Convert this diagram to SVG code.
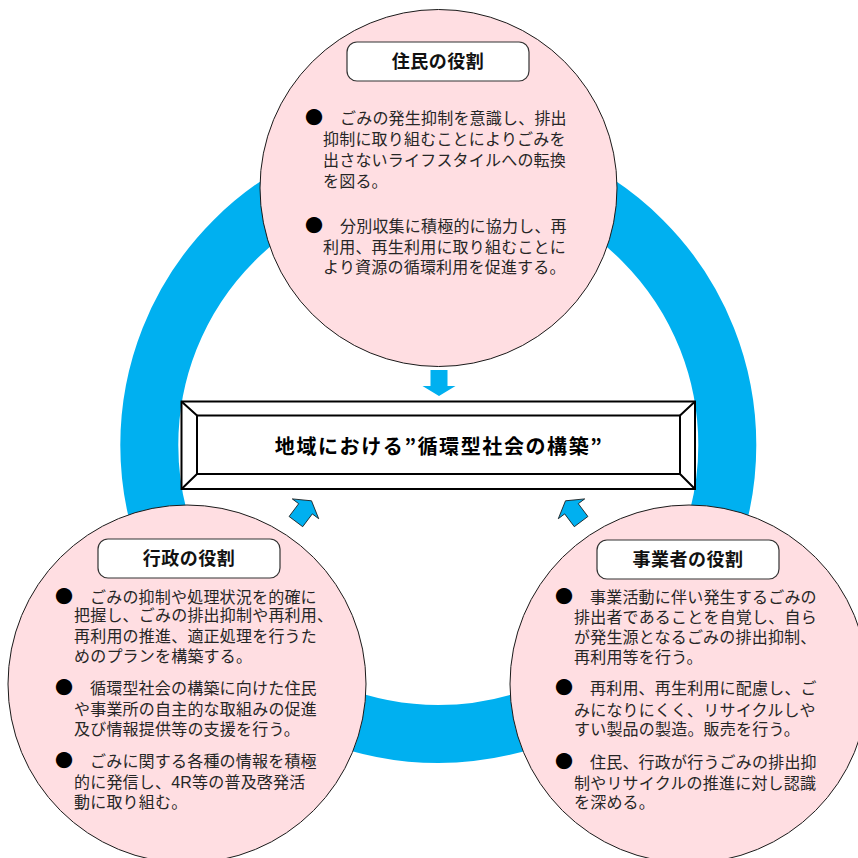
<svg xmlns="http://www.w3.org/2000/svg" width="858" height="858" viewBox="0 0 858 858">
<style>
.ring{fill:none;stroke:#00B0F0;stroke-width:58}
.role{fill:#FFDEE2;stroke:#1a1a1a;stroke-width:1}
.lbl{fill:#fff;stroke:#333;stroke-width:1.2}
.lt{font-family:"Noto Sans CJK JP","Noto Sans CJK SC",sans-serif;font-weight:700;font-size:18px;letter-spacing:0.5px;text-anchor:middle;fill:#111}
.bt{font-family:"Liberation Sans","Noto Sans CJK JP","Noto Sans CJK SC",sans-serif;font-size:16px;letter-spacing:0.2px;fill:#262626}
.bu{font-family:"Noto Sans CJK JP","Noto Sans CJK SC",sans-serif;font-size:18px;fill:#000}
.bx{fill:#fff;stroke:#000;stroke-width:2}
.ct{font-family:"Noto Sans CJK JP","Noto Sans CJK SC",sans-serif;font-weight:700;font-size:20px;text-anchor:middle;fill:#000}
.arr{fill:#00B0F0;stroke:#1a1a1a;stroke-width:0.8;stroke-linejoin:miter}
.arrd{fill:#00B0F0}
</style>
<defs>
<path id="ah" d="M-8.5,-16 L8.5,-16 L8.5,0 L16.5,0 L0,10 L-16.5,0 L-8.5,0 Z"/>
</defs>
<rect width="858" height="858" fill="#fff"/>
<g id="ring">
<circle class="ring" cx="438.3" cy="445" r="289"/>
</g>
<g id="node-residents">
<circle class="role" cx="438.5" cy="188" r="178.5"/>
<rect class="lbl" x="347" y="42" width="182" height="39" rx="10"/>
<text class="lt" x="438" y="68">住民の役割</text>
<text class="bt"><tspan class="bu" x="305" y="124">●</tspan><tspan x="340" y="124">ごみの発生抑制を意識し、排出</tspan><tspan x="323" y="145">抑制に取り組むことによりごみを</tspan><tspan x="323" y="166">出さないライフスタイルへの転換</tspan><tspan x="323" y="187">を図る。</tspan></text>
<text class="bt"><tspan class="bu" x="305" y="232">●</tspan><tspan x="340" y="232">分別収集に積極的に協力し、再</tspan><tspan x="323" y="253">利用、再生利用に取り組むことに</tspan><tspan x="323" y="273">より資源の循環利用を促進する。</tspan></text>
</g>
<g id="node-admin">
<circle class="role" cx="187" cy="684" r="179"/>
<rect class="lbl" x="98" y="539" width="182" height="39" rx="10"/>
<text class="lt" x="189" y="565">行政の役割</text>
<text class="bt"><tspan class="bu" x="55" y="603">●</tspan><tspan x="90" y="603">ごみの抑制や処理状況を的確に</tspan><tspan x="74" y="621">把握し、ごみの排出抑制や再利用、</tspan><tspan x="74" y="642">再利用の推進、適正処理を行うた</tspan><tspan x="74" y="662">めのプランを構築する。</tspan></text>
<text class="bt"><tspan class="bu" x="55" y="694">●</tspan><tspan x="90" y="694">循環型社会の構築に向けた住民</tspan><tspan x="74" y="715">や事業所の自主的な取組みの促進</tspan><tspan x="74" y="735">及び情報提供等の支援を行う。</tspan></text>
<text class="bt"><tspan class="bu" x="55" y="767">●</tspan><tspan x="90" y="767">ごみに関する各種の情報を積極</tspan><tspan x="74" y="788">的に発信し、4R等の普及啓発活</tspan><tspan x="74" y="808">動に取り組む。</tspan></text>
</g>
<g id="node-business">
<circle class="role" cx="689" cy="684" r="179"/>
<rect class="lbl" x="597" y="540" width="182" height="39" rx="10"/>
<text class="lt" x="688" y="566">事業者の役割</text>
<text class="bt"><tspan class="bu" x="555" y="603">●</tspan><tspan x="590" y="603">事業活動に伴い発生するごみの</tspan><tspan x="574" y="623">排出者であることを自覚し、自ら</tspan><tspan x="574" y="643">が発生源となるごみの排出抑制、</tspan><tspan x="574" y="663">再利用等を行う。</tspan></text>
<text class="bt"><tspan class="bu" x="555" y="694">●</tspan><tspan x="590" y="694">再利用、再生利用に配慮し、ご</tspan><tspan x="574" y="716">みになりにくく、リサイクルしや</tspan><tspan x="574" y="735">すい製品の製造。販売を行う。</tspan></text>
<text class="bt"><tspan class="bu" x="555" y="768">●</tspan><tspan x="590" y="768">住民、行政が行うごみの排出抑</tspan><tspan x="574" y="789">制やリサイクルの推進に対し認識</tspan><tspan x="574" y="808">を深める。</tspan></text>
</g>
<g id="node-center">
<rect class="bx" x="181.5" y="401.5" width="513.5" height="87.5"/>
<rect class="bx" x="197" y="415.5" width="483" height="58.5"/>
<path d="M181.5,401.5 L197,415.5 M695,401.5 L680,415.5 M181.5,489 L197,474 M695,489 L680,474" stroke="#000" stroke-width="2" fill="none"/>
<text class="ct" x="438.3" y="454" textLength="327" lengthAdjust="spacing">地域における”循環型社会の構築”</text>
</g>
<g id="connectors">
<polygon class="arrd" points="430.5,370 447.5,370 447.5,386 455.5,386 439,396 422.5,386 430.5,386"/>
<use href="#ah" class="arr" transform="translate(305.5,508.8) rotate(-143.13)"/>
<use href="#ah" class="arr" transform="translate(571.5,508.8) rotate(143.13)"/>
</g>
</svg>
